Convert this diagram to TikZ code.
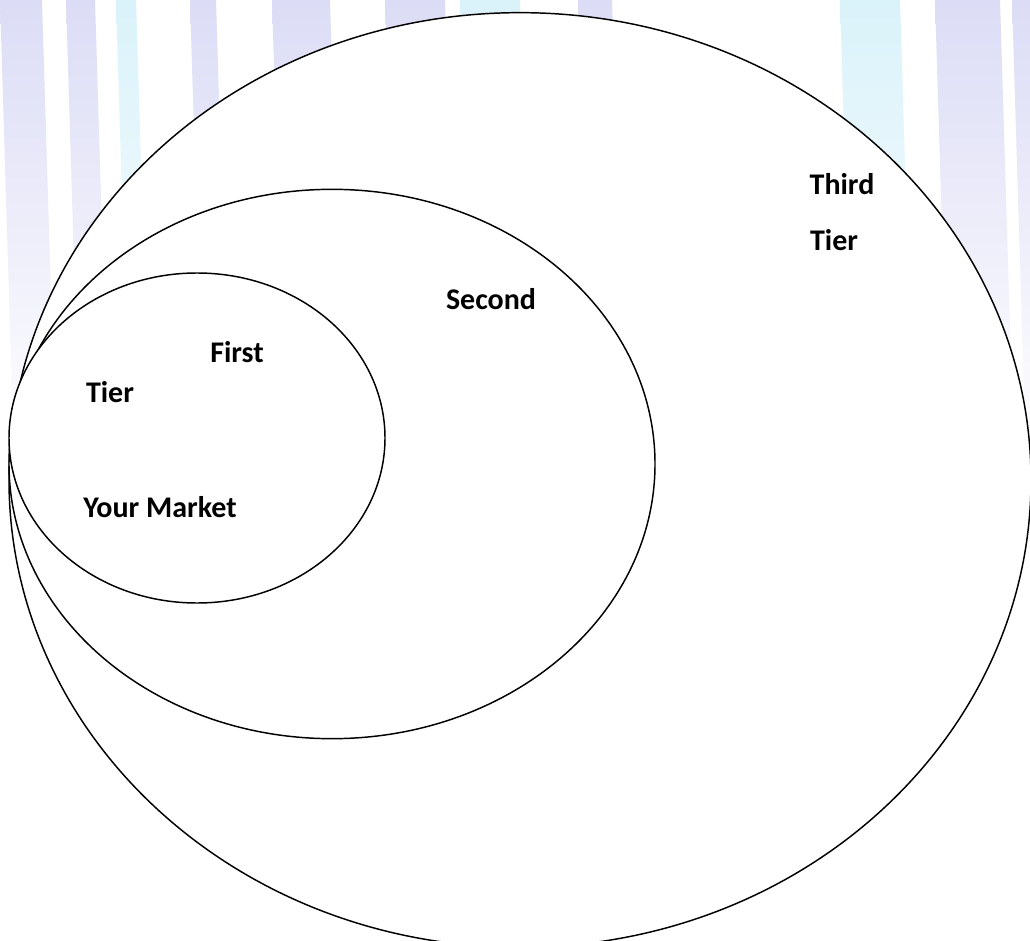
\documentclass[tikz,border=0pt]{standalone}
\usepackage{fontspec}
\setmainfont{Carlito}
\usepackage{xcolor}
\usetikzlibrary{shapes.geometric}
\definecolor{lavande}{RGB}{220,220,246}
\definecolor{ciel}{RGB}{218,242,250}

\begin{document}
\begin{tikzpicture}[x=0.75pt, y=0.75pt,
  tier/.style 2 args={ellipse, draw=black, fill=white, line width=1.1pt,
                      minimum width=#1, minimum height=#2, inner sep=0pt},
  lbl/.style={font=\fontsize{22.5}{27}\selectfont\bfseries, inner sep=0pt}]

\useasboundingbox (0,0) rectangle (1030,940);
\fill[white] (0,0) rectangle (1030,940);

% ── filigrane : bandes pâles derrière ──
\foreach \xa/\xb/\col in {0/42/lavande, 66/95/lavande, 116/136/ciel, 190/216/lavande,
                          272/330/lavande, 385/445/lavande, 460/520/ciel, 578/612/lavande,
                          840/900/ciel, 935/1000/lavande, 1012/1030/lavande}
  \shade[top color=\col, bottom color=white]
    (\xa,940) -- (\xb,940) -- (\xb+14,480) -- (\xa+14,480) -- cycle;

% ── les trois tiers ──
\node[tier={766.5pt}{701pt}]   (t3) at (520,460) {};
\node[tier={484.5pt}{412pt}]   (t2) at (332,476) {};
\node[tier={282pt}{247.5pt}]   (t1) at (197,502) {};

% ── textes ──
\node[lbl] (third)  at (842,756) {Third};
\node[lbl] (tierc)  at (834,700) {Tier};
\node[lbl] (second) at (491,641) {Second};
\node[lbl] (first)  at (237,588) {First};
\node[lbl] (tiera)  at (110,548) {Tier};
\node[lbl] (market) at (160,433) {Your Market};

\end{tikzpicture}
\end{document}
